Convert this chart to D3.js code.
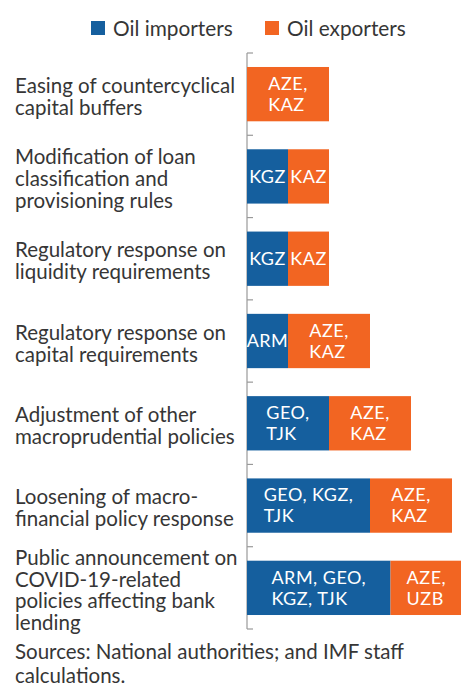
<!DOCTYPE html>
<html>
<head>
<meta charset="utf-8">
<script src="https://cdn.jsdelivr.net/npm/d3@7"></script>
<style>
  body { margin: 0; background: #fff; }
  svg text { font-family: Lato, "Open Sans", sans-serif; }
</style>
</head>
<body>
<svg id="chart" width="461" height="686"></svg>
<script>
// Data
// ----
const categories = [
  ["Easing of countercyclical", "capital buffers"],
  ["Modification of loan", "classification and", "provisioning rules"],
  ["Regulatory response on", "liquidity requirements"],
  ["Regulatory response on", "capital requirements"],
  ["Adjustment of other", "macroprudential policies"],
  ["Loosening of macro-", "financial policy response"],
  ["Public announcement on", "COVID-19-related", "policies affecting bank", "lending"]
];
// bar lengths as drawn in the picture (last row is drawn shorter)
const importers = [0, 1, 1, 1, 2, 3, 3.5];
const exporters = [2, 1, 1, 2, 2, 2, 1.75];
const importerLabels = [[], ["KGZ"], ["KGZ"], ["ARM"], ["GEO,", "TJK"], ["GEO, KGZ,", "TJK"], ["ARM, GEO,", "KGZ, TJK"]];
const exporterLabels = [["AZE,", "KAZ"], ["KAZ"], ["KAZ"], ["AZE,", "KAZ"], ["AZE,", "KAZ"], ["AZE,", "KAZ"], ["AZE,", "UZB"]];
const seriesNames = ["Oil importers", "Oil exporters"];
const source = ["Sources: National authorities; and IMF staff", "calculations."];

const colors = ["#155F9E", "#F26522"];
const textColor = "#363636";

const svg = d3.select("#chart");

// Scales
// ------
const y = d3.scaleBand()
  .domain(d3.range(categories.length))
  .range([53, 629])
  .paddingInner(0.34)
  .paddingOuter(0.17);

const x = d3.scaleLinear().domain([0, 5]).range([247, 452]);

// Axis (left line with band ticks pointing right)
const axisG = svg.append("g");
axisG.append("line")
  .attr("x1", 247).attr("x2", 247)
  .attr("y1", 53).attr("y2", 629)
  .attr("stroke", "#999").attr("stroke-width", 1.2);
const bounds = d3.range(categories.length + 1).map(i => 53 + i * y.step());
axisG.selectAll(".tick").data(bounds).join("line")
  .attr("x1", 247).attr("x2", 253)
  .attr("y1", d => d).attr("y2", d => d)
  .attr("stroke", "#999").attr("stroke-width", 1.2);

// Bars
// ----
function centeredLines(g, lines, cx, cy) {
  const lh = 21;
  const t = g.append("g");
  const texts = t.selectAll("text").data(lines).join("text")
    .attr("y", (d, i) => cy + (i - (lines.length - 1) / 2) * lh)
    .attr("dy", "0.35em")
    .attr("fill", "#fff")
    .attr("font-size", 18)
    .attr("letter-spacing", 0.5)
    .text(d => d);
  let maxW = 0;
  texts.each(function() { maxW = Math.max(maxW, this.getComputedTextLength()); });
  texts.attr("x", cx - maxW / 2);
}

categories.forEach((c, i) => {
  const y0 = y(i), h = y.bandwidth(), cy = y0 + h / 2;
  const segs = [
    { v0: 0, v1: importers[i], color: colors[0], labels: importerLabels[i] },
    { v0: importers[i], v1: importers[i] + exporters[i], color: colors[1], labels: exporterLabels[i] }
  ];
  segs.forEach(s => {
    if (s.v1 - s.v0 <= 0) return;
    svg.append("rect")
      .attr("x", x(s.v0)).attr("y", y0)
      .attr("width", x(s.v1) - x(s.v0)).attr("height", h)
      .attr("fill", s.color);
    centeredLines(svg, s.labels, (x(s.v0) + x(s.v1)) / 2, cy);
  });

  // category label
  const lh = 21.8;
  svg.append("g").selectAll("text").data(c).join("text")
    .attr("x", 15)
    .attr("y", (d, k) => cy + 2.5 + (k - (c.length - 1) / 2) * lh)
    .attr("dy", "0.35em")
    .attr("fill", textColor)
    .attr("font-size", 20.5)
    .text(d => d);
});

// Legend
// ------
const legendX = [91, 265];
seriesNames.forEach((n, i) => {
  svg.append("rect")
    .attr("x", legendX[i]).attr("y", 21)
    .attr("width", 14).attr("height", 14)
    .attr("fill", colors[i]);
  svg.append("text")
    .attr("x", legendX[i] + 22).attr("y", 36)
    .attr("fill", textColor)
    .attr("font-size", 20.8)
    .text(n);
});

// Source note
svg.append("g").selectAll("text").data(source).join("text")
  .attr("x", 15)
  .attr("y", (d, i) => 659 + i * 24)
  .attr("fill", textColor)
  .attr("font-size", 20.5)
  .text(d => d);
</script>
</body>
</html>
